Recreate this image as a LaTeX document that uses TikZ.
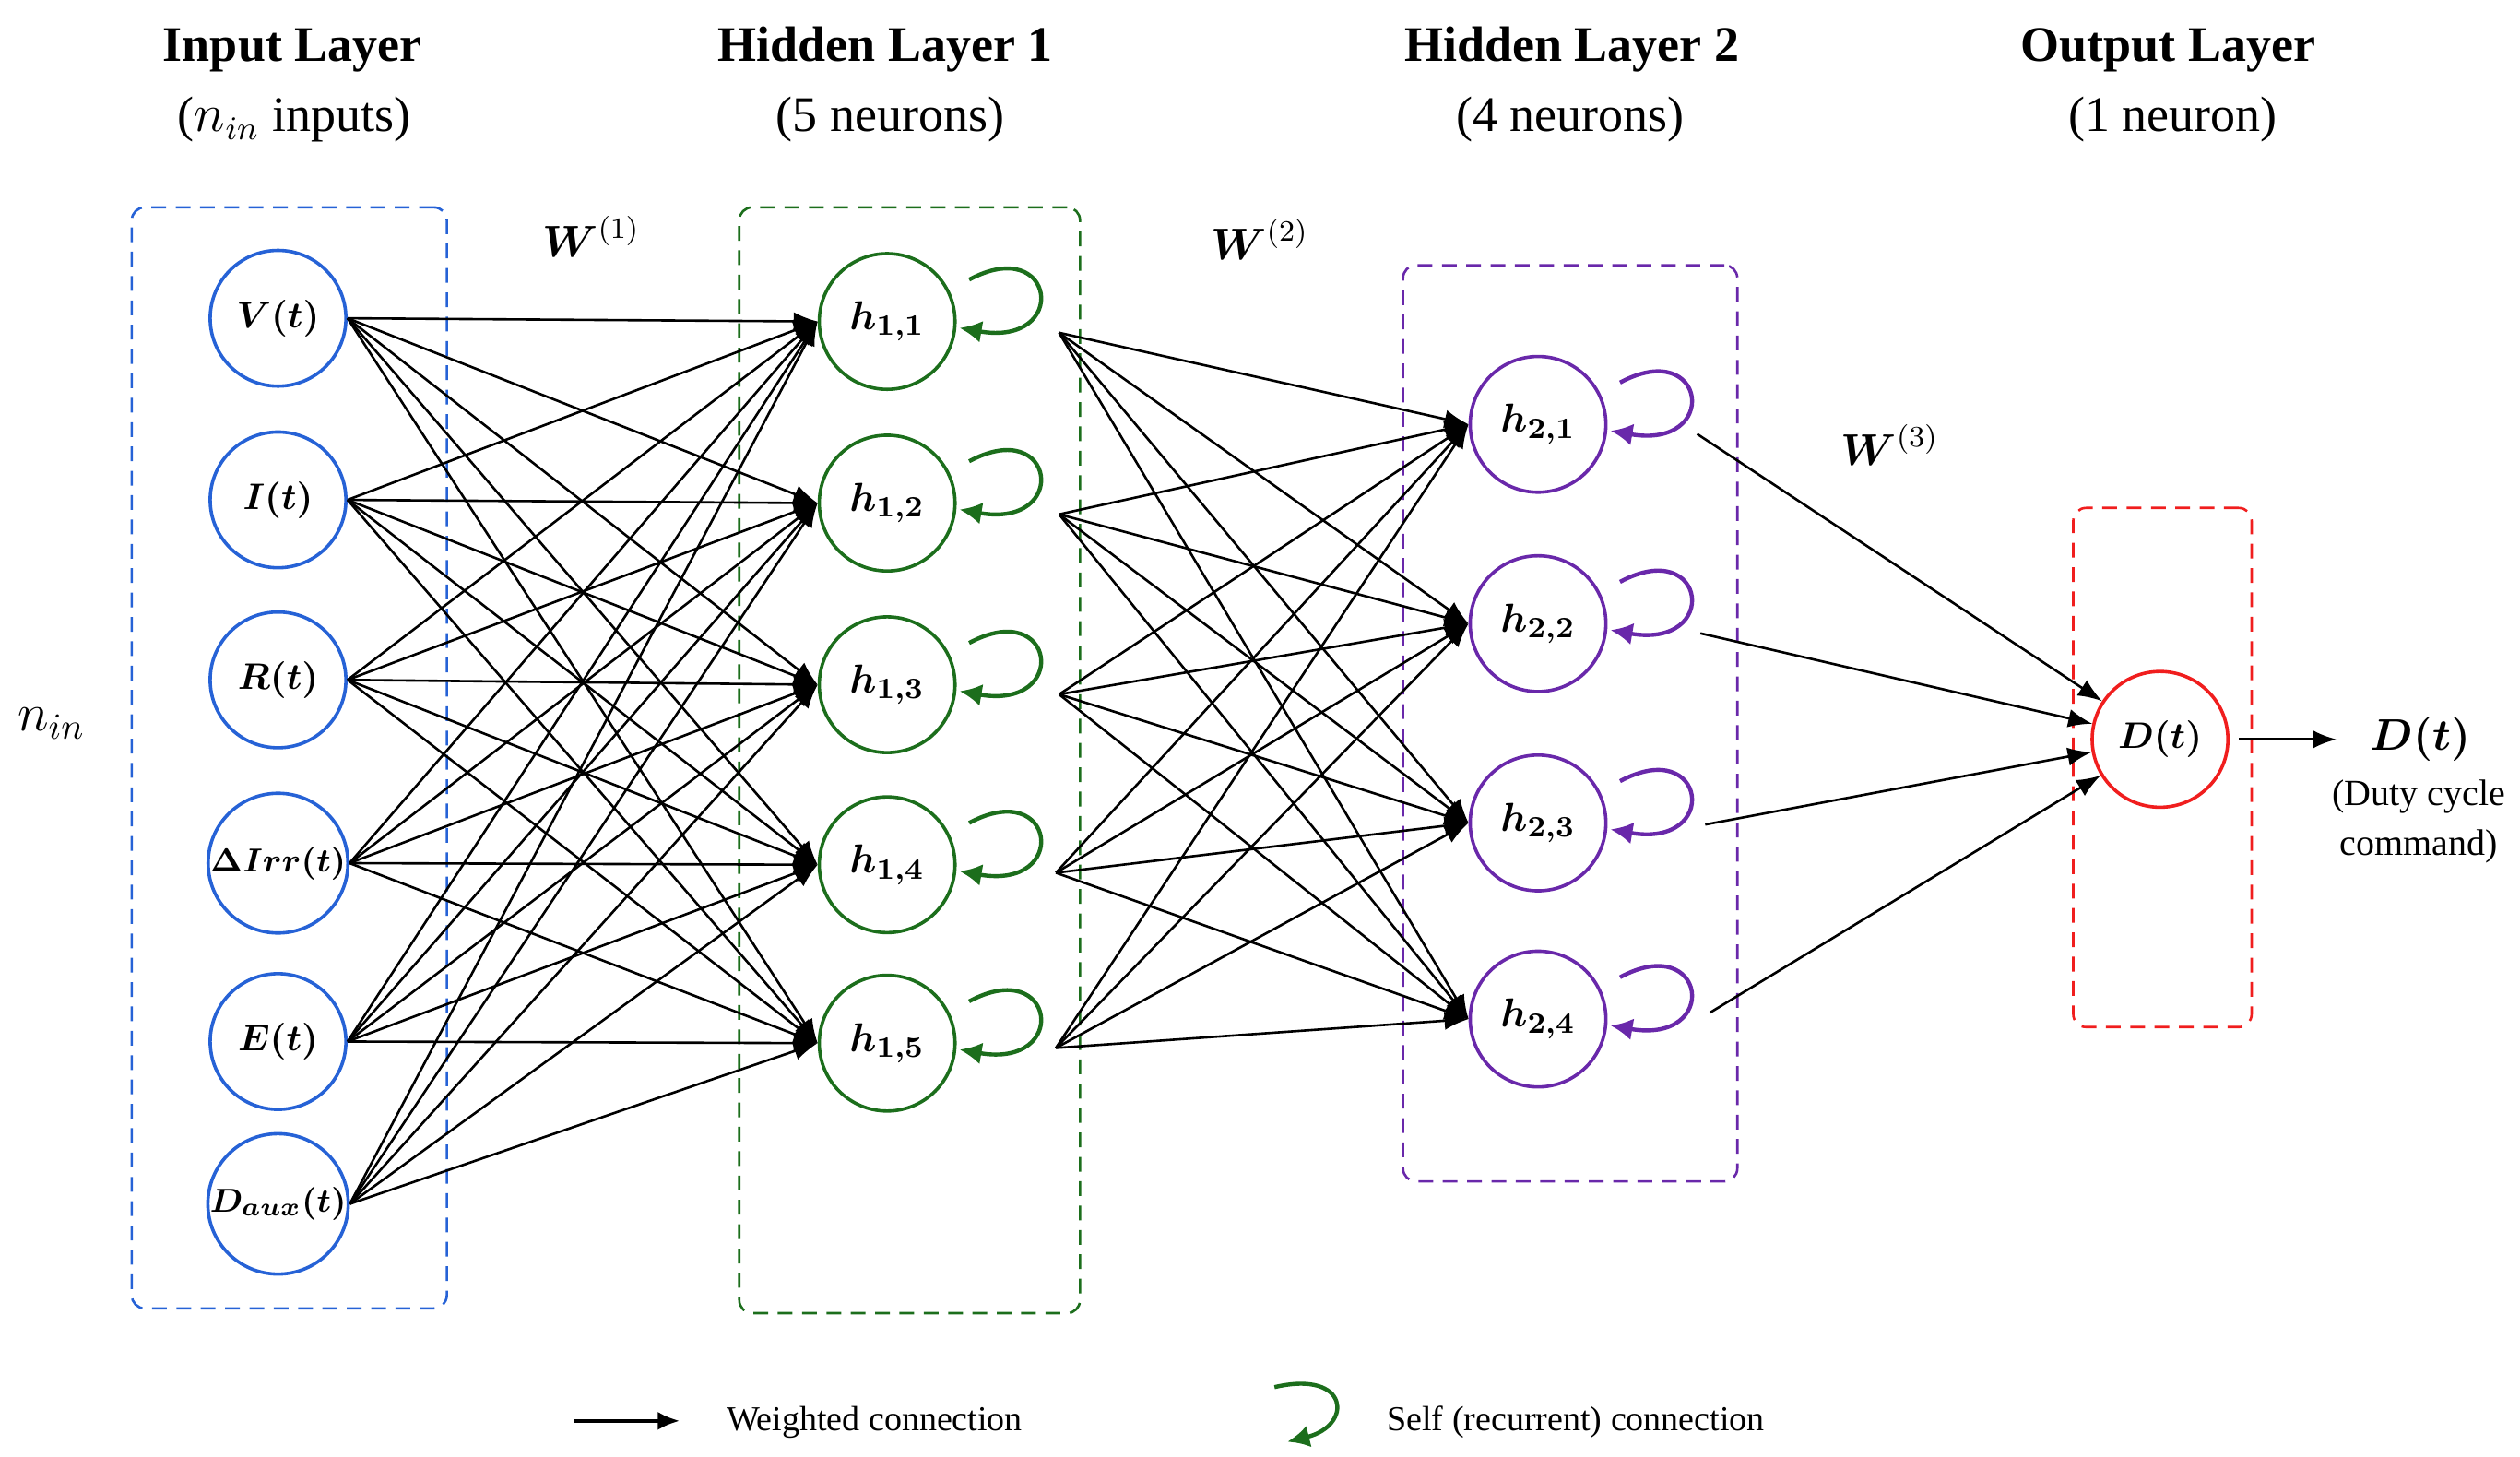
\documentclass[tikz,border=0pt]{standalone}
\usepackage{amsmath}
\usepackage{fontspec}
\setmainfont{Liberation Serif}
\usetikzlibrary{arrows.meta,fit}
\definecolor{inblue}{RGB}{38,98,214}
\definecolor{hagreen}{RGB}{28,110,28}
\definecolor{hbpurple}{RGB}{105,40,170}
\definecolor{outred}{RGB}{240,30,30}
\begin{document}
\begin{tikzpicture}[x=0.4357pt,y=-0.4357pt,
  layerbox/.style={draw, dash pattern=on 4pt off 2.6pt, rounded corners=3.5pt, line width=0.65pt, inner sep=0pt},
  neuron/.style={circle, draw, line width=0.9pt, minimum size=36.8pt, inner sep=0pt, fill=white,
    font=\fontsize{10}{12}\selectfont\boldmath},
  smallneuron/.style={neuron, font=\fontsize{9.3}{11}\selectfont\boldmath},
  hneuron/.style={neuron, font=\fontsize{11}{13}\selectfont\boldmath},
  conn/.style={-{Latex[length=6.5pt,width=5pt]}, line width=0.65pt, black},
  loopsty/.style={-{Latex[length=6pt,width=6pt]}, line width=1.1pt},
  title/.style={anchor=base, font=\fontsize{13.5}{16}\selectfont\bfseries},
  subtitle/.style={anchor=base, font=\fontsize{13.5}{16}\selectfont},
  wlabel/.style={font=\fontsize{11.5}{13}\selectfont},
  legtext/.style={anchor=west, font=\fontsize{9.5}{11}\selectfont}
]
\useasboundingbox (0,0) rectangle (1568,906);

% titles
\node[title] (t1) at (182,38) {Input Layer};
\node[subtitle] (s1) at (183,82) {($n_{in}$ inputs)};
\node[title] (t2) at (551,38) {Hidden Layer 1};
\node[subtitle] (s2) at (554,82) {(5 neurons)};
\node[title] (t3) at (978,38) {Hidden Layer 2};
\node[subtitle] (s3) at (977,82) {(4 neurons)};
\node[title] (t4) at (1349,38) {Output Layer};
\node[subtitle] (s4) at (1352,82) {(1 neuron)};

% layer boxes
\node[layerbox, draw=inblue, fit={(82,129) (278,814)}] (boxin) {};
\node[layerbox, draw=hagreen, fit={(460,129) (672,817)}] (boxha) {};
\node[layerbox, draw=hbpurple, fit={(873,165) (1081,735)}] (boxhb) {};
\node[layerbox, draw=outred, fit={(1290,316) (1401,639)}] (boxout) {};

% side label and weight labels
\node[font=\fontsize{14}{16}\selectfont] (nin) at (32,450) {$n_{in}$};
\node[wlabel] (w1) at (368,147) {$\boldsymbol{W}^{(1)}$};
\node[wlabel] (w2) at (784,149) {$\boldsymbol{W}^{(2)}$};
\node[wlabel] (w3) at (1176,277) {$\boldsymbol{W}^{(3)}$};

% input neurons
\node[neuron, draw=inblue] (i1) at (173,198) {$V(t)$};
\node[neuron, draw=inblue] (i2) at (173,311) {$I(t)$};
\node[neuron, draw=inblue] (i3) at (173,423) {$R(t)$};
\node[smallneuron, draw=inblue] (i4) at (173,537) {$\Delta Irr(t)$};
\node[neuron, draw=inblue] (i5) at (173,648) {$E(t)$};
\node[smallneuron, draw=inblue] (i6) at (173,749) {$D_{aux}(t)$};

% hidden layer 1
\node[hneuron, draw=hagreen] (ha1) at (552,200) {$h_{1,1}$};
\node[hneuron, draw=hagreen] (ha2) at (552,313) {$h_{1,2}$};
\node[hneuron, draw=hagreen] (ha3) at (552,426) {$h_{1,3}$};
\node[hneuron, draw=hagreen] (ha4) at (552,538) {$h_{1,4}$};
\node[hneuron, draw=hagreen] (ha5) at (552,649) {$h_{1,5}$};

% hidden layer 2
\node[hneuron, draw=hbpurple] (hb1) at (957,264) {$h_{2,1}$};
\node[hneuron, draw=hbpurple] (hb2) at (957,388) {$h_{2,2}$};
\node[hneuron, draw=hbpurple] (hb3) at (957,512) {$h_{2,3}$};
\node[hneuron, draw=hbpurple] (hb4) at (957,634) {$h_{2,4}$};

% output
\node[neuron, draw=outred] (dout) at (1344,460) {$D(t)$};
\node[font=\fontsize{12.5}{14}\selectfont\boldmath] (dlabel) at (1506,460) {$D(t)$};
\node[align=center, font=\fontsize{10}{13.5}\selectfont] (dnote) at (1505,511) {(Duty cycle\\command)};
\coordinate (dend) at (1454,460);

% output points of layers
\coordinate (ha1o) at (659,207);
\coordinate (ha2o) at (659,320);
\coordinate (ha3o) at (659,432);
\coordinate (ha4o) at (657,543);
\coordinate (ha5o) at (657,652);
\coordinate (hb1o) at (1056,270);
\coordinate (hb2o) at (1058,394);
\coordinate (hb3o) at (1061,513);
\coordinate (hb4o) at (1064,630);

% connections
\foreach \i in {1,...,6}
  \foreach \j in {1,...,5}
    \draw[conn] (i\i.east) -- (ha\j.west);
\foreach \i in {1,...,5}
  \foreach \j in {1,...,4}
    \draw[conn] (ha\i o) -- (hb\j.west);
\foreach \i in {1,...,4}
  \draw[conn] (hb\i o) -- (dout);
\draw[conn, line width=0.8pt, shorten <=2.5pt] (dout) -- (dend);

% self loops
\foreach \n/\c in {ha1/hagreen,ha2/hagreen,ha3/hagreen,ha4/hagreen,ha5/hagreen,hb1/hbpurple,hb2/hbpurple,hb3/hbpurple,hb4/hbpurple}
  \draw[loopsty, color=\c] ([shift={(51,-26)}]\n.center) .. controls ([shift={(105,-55)}]\n.center) and ([shift={(114,16)}]\n.center) .. ([shift={(45,4)}]\n.center);

% legend
\coordinate (legA) at (357,884);
\coordinate (legB) at (423,884);
\draw[-{Latex[length=6pt,width=5pt]}, line width=1pt] (legA) -- (legB);
\node[legtext] (legt1) at (444,885) {Weighted connection};
\coordinate (legC) at (793,863);
\coordinate (legD) at (801,897);
\draw[loopsty, color=hagreen] (legC) .. controls (840,852) and (842,887) .. (legD);
\node[legtext] (legt2) at (855,885) {Self (recurrent) connection};
\end{tikzpicture}
\end{document}
